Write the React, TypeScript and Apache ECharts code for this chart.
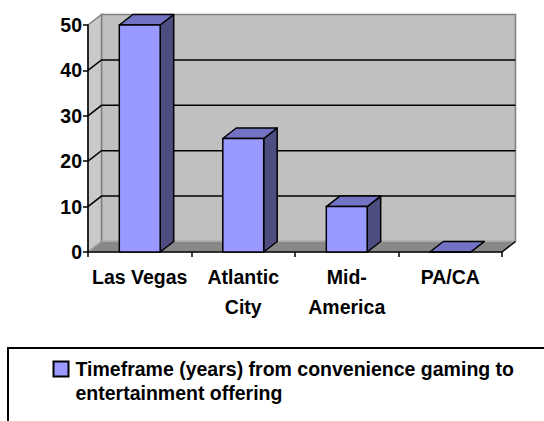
import React, { useEffect, useRef } from "react";
import * as echarts from "echarts";

// ---- data ----
const categories = ["Las Vegas", "Atlantic City", "Mid-America", "PA/CA"];
const values = [50, 25, 10, 0];
const seriesName =
  "Timeframe (years) from convenience gaming to entertainment offering";
const yTicks = [0, 10, 20, 30, 40, 50];

// ---- styling ----
const FONT = '"Liberation Sans", Arial, sans-serif';
const FSIZE = 19.5;
const FWEIGHT = "bold";
const DX = 13.5;
const DY = -10.5;
const BAR_RATIO = 0.395;
const FRONT = "#9999FF";
const TOP = "#7373C4";
const SIDE = "#4D4D80";

function wrapLabel(s: string): string {
  if (s.length <= 10) return s;
  const sp = s.lastIndexOf(" ");
  if (sp > 0) return s.slice(0, sp) + "\n" + s.slice(sp + 1);
  const h = s.indexOf("-");
  if (h > 0) return s.slice(0, h + 1) + "\n" + s.slice(h + 1);
  return s;
}

export default function App() {
  const ref = useRef<HTMLDivElement>(null);

  useEffect(() => {
    if (!ref.current) return;
    const chart = echarts.init(ref.current, undefined, { renderer: "svg" });
    const yMin = yTicks[0];
    const yMax = yTicks[yTicks.length - 1];
    const yStep = yTicks[1] - yTicks[0];

    const option: any = {
      animation: false,
      backgroundColor: "#ffffff",
      grid: { left: 88, right: 42, top: 25, bottom: 169, containLabel: false },
      xAxis: {
        type: "category",
        data: categories,
        axisLine: { show: true, lineStyle: { color: "#000", width: 1.5 } },
        axisTick: { show: true, length: 5, lineStyle: { color: "#000", width: 1.5 } },
        axisLabel: {
          interval: 0,
          formatter: (v: string) => wrapLabel(v),
          color: "#000",
          fontFamily: FONT,
          fontSize: FSIZE,
          fontWeight: FWEIGHT,
          lineHeight: 30,
          margin: 10,
        },
        splitLine: { show: false },
      },
      yAxis: {
        type: "value",
        min: yMin,
        max: yMax,
        interval: yStep,
        axisLine: { show: true, lineStyle: { color: "#000", width: 1.5 } },
        axisTick: { show: true, length: 5, lineStyle: { color: "#000", width: 1.5 } },
        axisLabel: {
          color: "#000",
          fontFamily: FONT,
          fontSize: FSIZE,
          fontWeight: FWEIGHT,
          margin: 6,
        },
        splitLine: { show: false },
      },
      legend: {
        data: [
          {
            name: seriesName,
            icon: "path://M0 0H15V15H0Z M0 39L0 39",
          },
        ],
        left: 52.5,
        top: 357,
        padding: 0,
        itemWidth: 15,
        itemHeight: 39,
        symbolKeepAspect: true,
        itemStyle: { color: FRONT, borderColor: "#000", borderWidth: 2 },
        textStyle: {
          color: "#000",
          fontFamily: FONT,
          fontSize: FSIZE,
          fontWeight: FWEIGHT,
          lineHeight: 24,
          width: 460,
          overflow: "break",
          padding: [0, 0, 0, 2],
        },
      },
      graphic: [
        {
          type: "rect",
          shape: { x: 8, y: 348, width: 600, height: 140 },
          style: { fill: "none", stroke: "#000", lineWidth: 2 },
          silent: true,
        },
      ],
      series: [
        {
          type: "custom",
          name: "frame",
          z: -1,
          silent: true,
          data: [[0, 0]],
          renderItem: (params: any, api: any) => {
            const cs = params.coordSys;
            const x0 = cs.x;
            const x1 = cs.x + cs.width;
            const yb = api.coord([0, yMin])[1];
            const yt = api.coord([0, yMax])[1];
            const children: any[] = [];
            children.push({
              type: "polygon",
              shape: {
                points: [
                  [x0 + DX, yt + DY],
                  [x1 + DX, yt + DY],
                  [x1 + DX, yb + DY],
                  [x0 + DX, yb + DY],
                ],
              },
              style: { fill: "#C0C0C0", stroke: "#808080", lineWidth: 1.5 },
            });
            children.push({
              type: "polygon",
              shape: {
                points: [
                  [x0, yt],
                  [x0 + DX, yt + DY],
                  [x0 + DX, yb + DY],
                  [x0, yb],
                ],
              },
              style: { fill: "#C9C9C9", stroke: "#808080", lineWidth: 1.5 },
            });
            children.push({
              type: "polygon",
              shape: {
                points: [
                  [x0, yb],
                  [x0 + DX, yb + DY],
                  [x1 + DX, yb + DY],
                  [x1, yb],
                ],
              },
              style: { fill: "#888888", stroke: "#A8A8A8", lineWidth: 1 },
            });
            yTicks.slice(1, -1).forEach((v) => {
              const y = api.coord([0, v])[1];
              children.push({
                type: "polyline",
                shape: {
                  points: [
                    [x0, y],
                    [x0 + DX, y + DY],
                    [x1 + DX, y + DY],
                  ],
                },
                style: { fill: "none", stroke: "#000", lineWidth: 1.5 },
              });
            });
            children.push({
              type: "line",
              shape: { x1: x1, y1: yb, x2: x1 + DX, y2: yb + DY },
              style: { stroke: "#000", lineWidth: 1.5 },
            });
            return { type: "group", children };
          },
        },
        {
          type: "custom",
          name: seriesName,
          z: 3,
          itemStyle: { color: FRONT },
          data: values.map((v, i) => [i, v]),
          encode: { x: 0, y: 1 },
          renderItem: (params: any, api: any) => {
            const cat = api.value(0);
            const v = api.value(1);
            const top = api.coord([cat, v]);
            const base = api.coord([cat, 0]);
            const bw = api.size([1, 0])[0] * BAR_RATIO;
            const l = top[0] - bw / 2;
            const r = top[0] + bw / 2;
            const yt = top[1];
            const yb = base[1];
            const line = { stroke: "#000", lineWidth: 1.5, lineJoin: "round" };
            return {
              type: "group",
              children: [
                {
                  type: "polygon",
                  shape: {
                    points: [
                      [r, yt],
                      [r + DX, yt + DY],
                      [r + DX, yb + DY],
                      [r, yb],
                    ],
                  },
                  style: { fill: SIDE, ...line },
                },
                {
                  type: "polygon",
                  shape: {
                    points: [
                      [l, yt],
                      [r, yt],
                      [r + DX, yt + DY],
                      [l + DX, yt + DY],
                    ],
                  },
                  style: { fill: TOP, ...line },
                },
                {
                  type: "rect",
                  shape: { x: l, y: yt, width: r - l, height: yb - yt },
                  style: { fill: FRONT, ...line },
                },
              ],
            };
          },
        },
      ],
    };
    chart.setOption(option);
    return () => chart.dispose();
  }, []);

  return (
    <div
      ref={ref}
      style={{ position: "fixed", left: 0, top: 0, width: 544, height: 421 }}
    />
  );
}
